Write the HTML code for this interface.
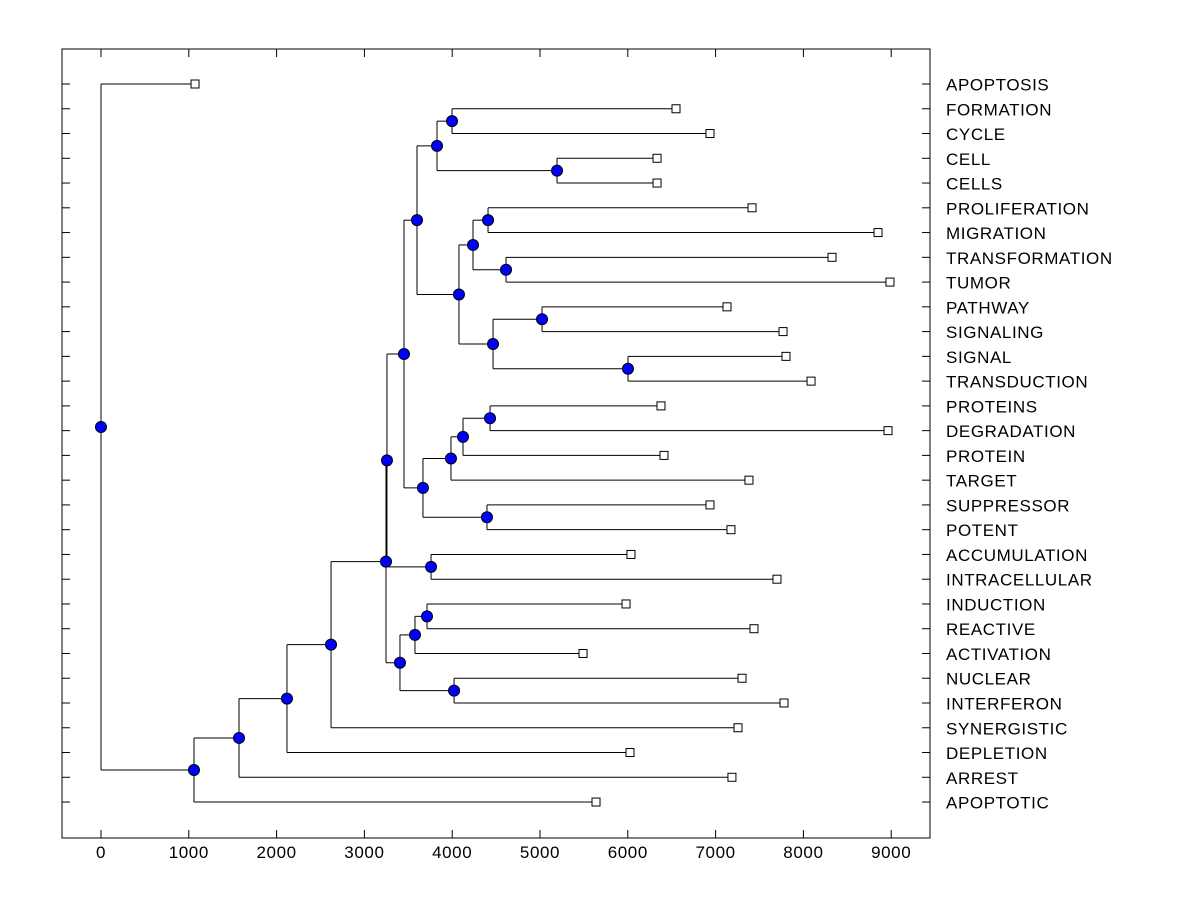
<!DOCTYPE html>
<html><head><meta charset="utf-8"><style>
html,body{margin:0;padding:0;background:#fff;width:1200px;height:900px;overflow:hidden}
svg text{font-family:"Liberation Sans",Arial,sans-serif;font-size:17px;letter-spacing:0.6px;fill:#000}
</style></head><body>
<svg id="chart" width="1200" height="900" xmlns="http://www.w3.org/2000/svg"></svg>
<script>
const labels = ["APOPTOSIS","FORMATION","CYCLE","CELL","CELLS","PROLIFERATION","MIGRATION","TRANSFORMATION","TUMOR","PATHWAY","SIGNALING","SIGNAL","TRANSDUCTION","PROTEINS","DEGRADATION","PROTEIN","TARGET","SUPPRESSOR","POTENT","ACCUMULATION","INTRACELLULAR","INDUCTION","REACTIVE","ACTIVATION","NUCLEAR","INTERFERON","SYNERGISTIC","DEPLETION","ARREST","APOPTOTIC"];
const leafValues = [1071,6549,6936,6333,6333,7415,8850,8326,8986,7130,7768,7802,8087,6378,8964,6412,7380,6936,7175,6036,7699,5980,7437,5490,7301,7779,7255,6025,7186,5638];
const mergeLeft  = [1,3,30,5,7,33,9,11,36,35,32,13,41,42,17,43,40,19,46,21,49,24,50,48,53,54,55,56,0];
const mergeRight = [2,4,31,6,8,34,10,12,37,38,39,14,15,16,18,44,45,20,47,22,23,25,51,52,26,27,28,29,57];
const mergeHeights = [3998,5194,3827,4408,4613,4237,5023,6002,4465,4077,3599,4431,4123,3986,4396,3667,3451,3759,3257,3713,3576,4021,3405,3246,2620,2118,1572,1059,0];
const xTicks = [0,1000,2000,3000,4000,5000,6000,7000,8000,9000];

const svg = document.getElementById('chart');
const NS = 'http://www.w3.org/2000/svg';
const L=62,R=930,T=49,B=838;
const xs = v => 101 + v*0.0878;
const ys = i => 84 + i*24.76;
function mk(tag, attrs, parent){const e=document.createElementNS(NS,tag);for(const k in attrs)e.setAttribute(k,attrs[k]);(parent||svg).appendChild(e);return e;}

const frame = mk('rect',{x:L,y:T,width:R-L,height:B-T,fill:'none',stroke:'#000','stroke-width':1});



const axisG = mk('g',{});


xTicks.forEach(t=>{
  const x=xs(t);
  mk('line',{x1:x,y1:T,x2:x,y2:T+8,stroke:'#000'},axisG);
  mk('line',{x1:x,y1:B,x2:x,y2:B-8,stroke:'#000'},axisG);
  const tx=mk('text',{x:x,y:858,'text-anchor':'middle'},axisG);
  tx.textContent=t;
  
  
});

const nodeX=[], nodeY=[];
leafValues.forEach((v,i)=>{nodeX.push(xs(v));nodeY.push(ys(i));});
mergeHeights.forEach((h,k)=>{
  const a=mergeLeft[k], b=mergeRight[k];
  nodeX.push(xs(h)); nodeY.push((nodeY[a]+nodeY[b])/2);
});

const lineG = mk('g',{stroke:'#000','stroke-width':1,fill:'none'});


mergeHeights.forEach((h,k)=>{
  const a=mergeLeft[k], b=mergeRight[k], x=xs(h);
  mk('line',{x1:x,y1:nodeY[a],x2:x,y2:nodeY[b]},lineG);
  mk('line',{x1:x,y1:nodeY[a],x2:nodeX[a],y2:nodeY[a]},lineG);
  mk('line',{x1:x,y1:nodeY[b],x2:nodeX[b],y2:nodeY[b]},lineG);
});

const rowG = mk('g',{});


labels.forEach((lab,i)=>{
  const y=ys(i);
  mk('line',{x1:L,y1:y,x2:L+8,y2:y,stroke:'#000'},rowG);
  mk('line',{x1:R,y1:y,x2:R-8,y2:y,stroke:'#000'},rowG);
  const sq=mk('rect',{x:nodeX[i]-4,y:y-4,width:8,height:8,fill:'#fff',stroke:'#000'},rowG);
  
  
  const t=mk('text',{x:946,y:y+6.5},rowG);
  t.textContent=lab;
  
  
});

const nodeG = mk('g',{});


mergeHeights.forEach((h,k)=>{
  const idx=leafValues.length+k;
  const c=mk('circle',{cx:nodeX[idx],cy:nodeY[idx],r:5.5,fill:'#0000ff',stroke:'#000','stroke-width':1},nodeG);
  
  
});
</script>
</body></html>
